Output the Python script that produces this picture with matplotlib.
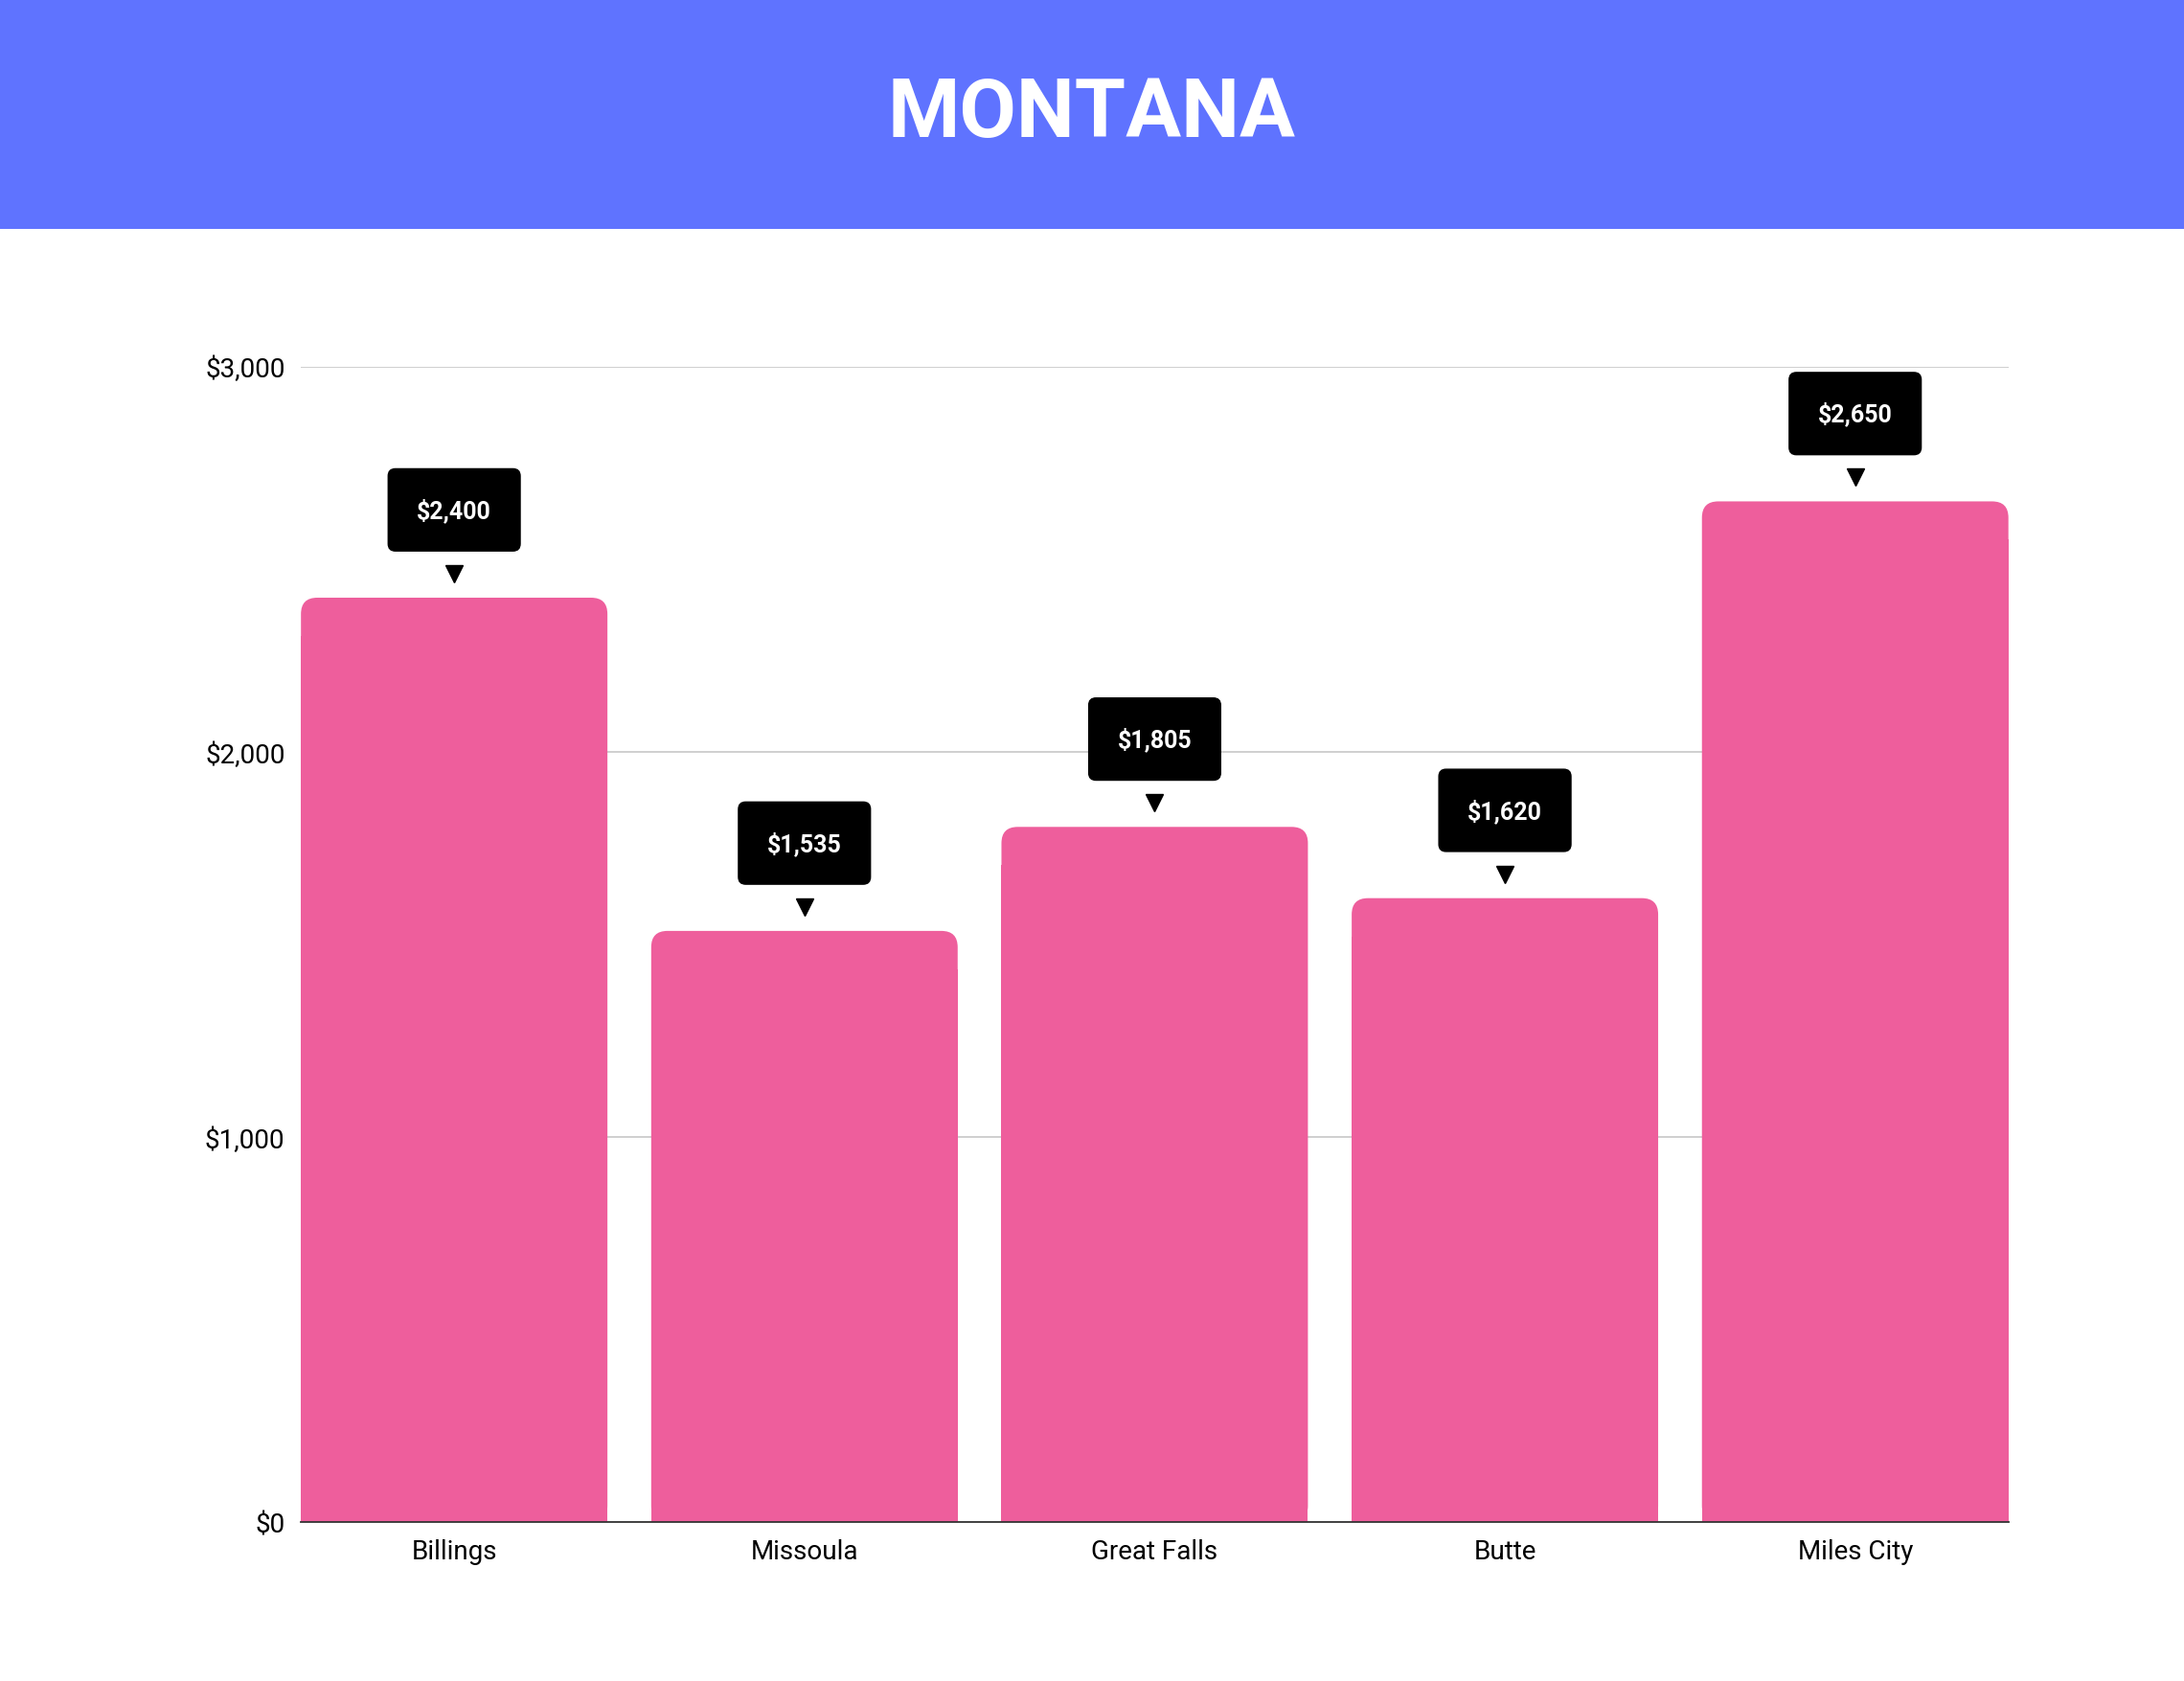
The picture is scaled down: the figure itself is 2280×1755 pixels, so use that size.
import matplotlib
matplotlib.use("Agg")
import matplotlib.pyplot as plt
from matplotlib.patches import FancyBboxPatch, Rectangle

plt.rcParams["font.family"] = "Roboto"

TITLE = "MONTANA"
CITIES = ["Billings", "Missoula", "Great Falls", "Butte", "Miles City"]
RENT = [2400, 1535, 1805, 1620, 2650]
Y_TICKS = [0, 1000, 2000, 3000]
Y_TICK_LABELS = ["$0", "$1,000", "$2,000", "$3,000"]

BAR_COLOR = "#EE5E9C"
HEADER_COLOR = "#5F73FF"
BAR_WIDTH = 0.875

fig = plt.figure(figsize=(22.8, 17.56), dpi=100)
fig.patches.append(Rectangle((0, 0.8634), 1, 0.1366, transform=fig.transFigure,
                             facecolor=HEADER_COLOR, edgecolor="none", zorder=0))
fig.text(0.5, 0.932, TITLE, ha="center", va="center", color="white",
         fontsize=62, fontweight="bold")

ax = fig.add_axes([0.1378, 0.0944, 0.9196 - 0.1378, 0.7815 - 0.0944])
ax.set_xlim(-BAR_WIDTH / 2, len(CITIES) - 1 + BAR_WIDTH / 2)
ax.set_ylim(0, 3000)

# data units per pixel, used to keep the rounded corners circular
bbox = ax.get_window_extent()
x_per_px = (len(CITIES) - 1 + BAR_WIDTH) / bbox.width
y_per_px = 3000 / bbox.height
aspect = y_per_px / x_per_px
r = 17 * x_per_px

for i, v in enumerate(RENT):
    left = i - BAR_WIDTH / 2
    ax.add_patch(FancyBboxPatch((left, 0), BAR_WIDTH, v,
                                boxstyle=f"round,pad=0,rounding_size={r}",
                                mutation_aspect=aspect, facecolor=BAR_COLOR,
                                edgecolor="none", zorder=2))
    ax.add_patch(Rectangle((left, 0), BAR_WIDTH, v - 40 * y_per_px,
                           facecolor=BAR_COLOR, edgecolor="none", zorder=2))
    ax.annotate(f"${v:,}", (i, v), xytext=(0, 66), textcoords="offset points",
                ha="center", va="center", color="white", fontsize=18,
                fontweight="bold", zorder=4,
                bbox=dict(boxstyle="round,pad=1.2,rounding_size=0.3",
                          facecolor="black", edgecolor="black"))
    ax.plot([i], [v + 25 * y_per_px], marker="v", markersize=13,
            color="black", zorder=3, clip_on=False)

ax.set_xticks(range(len(CITIES)))
ax.set_xticklabels(CITIES, fontsize=20)
ax.set_yticks(Y_TICKS)
ax.set_yticklabels(Y_TICK_LABELS, fontsize=20)
ax.tick_params(length=0, pad=12)
ax.grid(axis="y", color="#cccccc", linewidth=1.3, zorder=0)
ax.set_axisbelow(True)
for s in ["top", "right", "left"]:
    ax.spines[s].set_visible(False)
ax.spines["bottom"].set_color("#333333")
ax.spines["bottom"].set_linewidth(1.3)
ax.spines["bottom"].set_zorder(5)

fig.savefig("out.png", dpi=100)
